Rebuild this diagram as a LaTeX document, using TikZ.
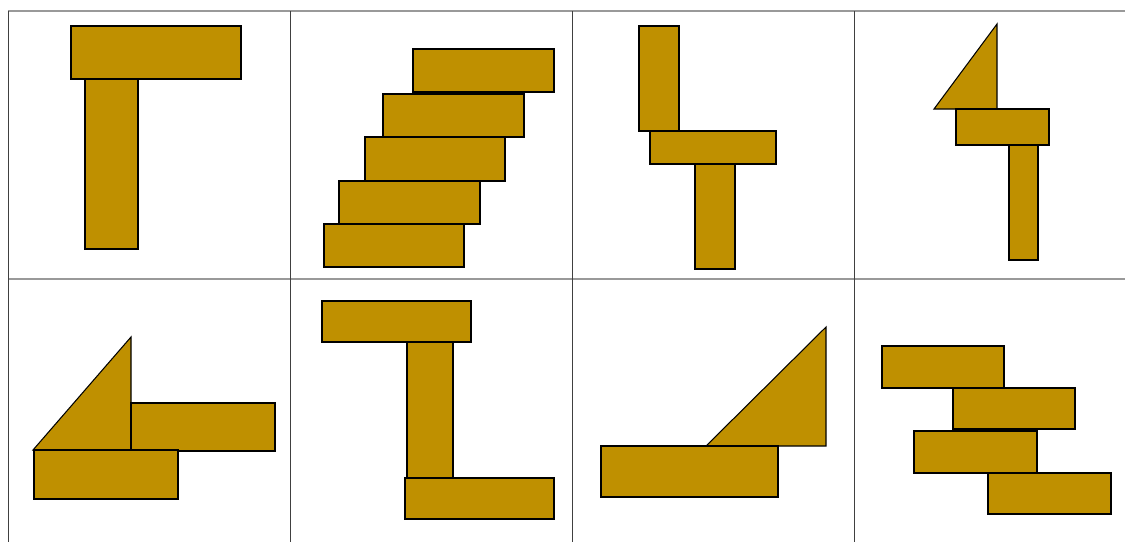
\documentclass[tikz,border=0pt]{standalone}
\definecolor{ochre}{RGB}{191,144,0}
\begin{document}
\begin{tikzpicture}[x=0.02cm,y=-0.02cm,
  plank/.style={fill=ochre,draw=black,line width=1.1pt},
  wedge/.style={fill=ochre,draw=black,line width=0.6pt,line join=miter}]
\useasboundingbox (0,0) rectangle (1125,542);
\draw[black!40,line width=0.9pt] (8,11) -- (1125,11);
\draw[black!40,line width=0.9pt] (8,279) -- (1125,279);
\draw[black!75,line width=0.5pt] (8,11) -- (8,542);
\draw[black!75,line width=0.5pt] (290,11) -- (290,542);
\draw[black!75,line width=0.5pt] (572,11) -- (572,542);
\draw[black!75,line width=0.5pt] (854,11) -- (854,542);
\draw[plank] (85,79) rectangle (138,249);
\draw[plank] (71,26) rectangle (241,79);
\draw[plank] (413,49) rectangle (554,92);
\draw[plank] (383,94) rectangle (524,137);
\draw[plank] (365,137) rectangle (505,181);
\draw[plank] (339,181) rectangle (480,224);
\draw[plank] (324,224) rectangle (464,267);
\draw[plank] (639,26) rectangle (679,131);
\draw[plank] (695,164) rectangle (735,269);
\draw[plank] (650,131) rectangle (776,164);
\draw[wedge] (997,24) -- (934,109) -- (997,109) -- cycle;
\draw[plank] (1009,145) rectangle (1038,260);
\draw[plank] (956,109) rectangle (1049,145);
\draw[wedge] (131,337) -- (33,450) -- (131,450) -- cycle;
\draw[plank] (131,403) rectangle (275,451);
\draw[plank] (34,450) rectangle (178,499);
\draw[plank] (407,342) rectangle (453,478);
\draw[plank] (322,301) rectangle (471,342);
\draw[plank] (405,478) rectangle (554,519);
\draw[wedge] (826,327) -- (706,446) -- (826,446) -- cycle;
\draw[plank] (601,446) rectangle (778,497);
\draw[plank] (882,346) rectangle (1004,388);
\draw[plank] (953,388) rectangle (1075,429);
\draw[plank] (914,431) rectangle (1037,473);
\draw[plank] (988,473) rectangle (1111,514);
\end{tikzpicture}
\end{document}
